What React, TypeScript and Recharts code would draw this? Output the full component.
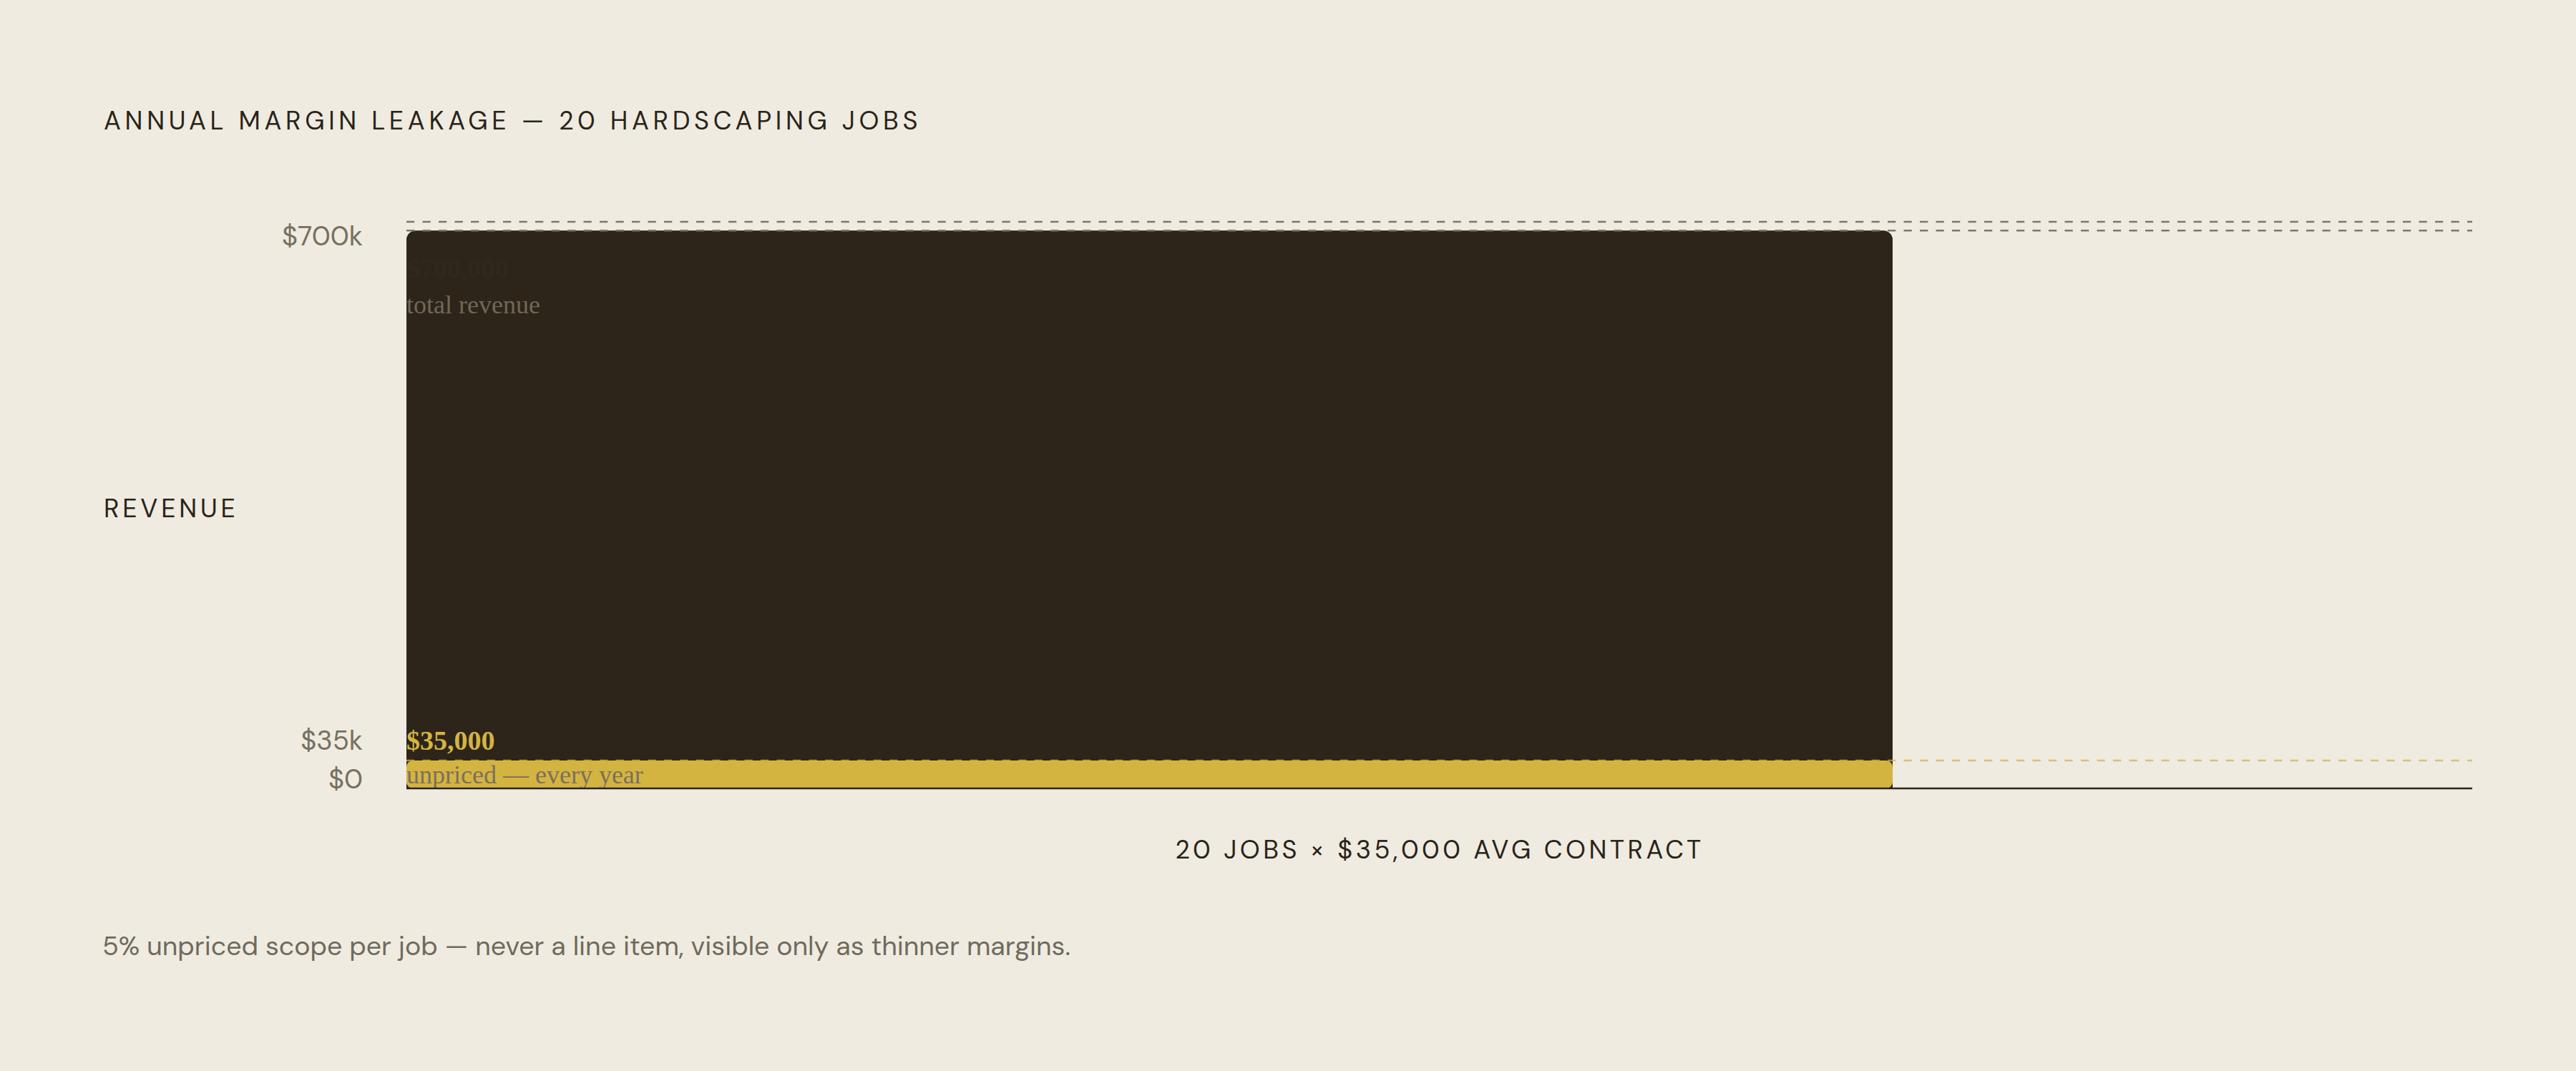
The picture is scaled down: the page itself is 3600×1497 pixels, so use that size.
import React from 'react';
import { ComposedChart, XAxis, YAxis, ReferenceArea, ReferenceLine, Rectangle } from 'recharts';

// ---- data ----
const JOBS = 20;
const X_MAX = 27.8;
const TOTAL_REVENUE = 700000;
const UNPRICED = 35000;
const Y_CEILING = 711000;
const Y_TICKS = [0, 35000, 700000];
const Y_TICK_LABELS = ['$0', '$35k', '$700k'];
const TOTAL_LABEL = '$700,000';
const TOTAL_CAPTION = 'total revenue';
const UNPRICED_LABEL = '$35,000';
const UNPRICED_CAPTION = 'unpriced — every year';
const TITLE = 'ANNUAL MARGIN LEAKAGE — 20 HARDSCAPING JOBS';
const Y_TITLE = 'REVENUE';
const X_TITLE = '20 JOBS × $35,000 AVG CONTRACT';
const FOOTNOTE = '5% unpriced scope per job — never a line item, visible only as thinner margins.';

// ---- style ----
const W = 3600;
const H = 1497;
const BG = '#efebe1';
const DARK = '#2d2519';
const GOLD = '#d4b441';
const MUTED = '#77705f';
const SANS = "'DM Sans', Inter, sans-serif";
const SERIF = "'Liberation Serif', 'Times New Roman', serif";

const TICK_DY: Record<number, number> = { 0: 0, 35000: -15, 700000: 21 };

function YTick(props: any) {
  const { x, y, payload } = props;
  const i = Y_TICKS.indexOf(payload.value);
  return (
    <text x={x} y={y + (TICK_DY[payload.value] ?? 0)} textAnchor="end" fill={MUTED} fontSize={38} fontFamily={SANS}>
      {Y_TICK_LABELS[i]}
    </text>
  );
}

function TotalShape(p: any) {
  const { x, y, width, height } = p;
  return (
    <g>
      <Rectangle x={x} y={y} width={width} height={height} radius={[13, 13, 0, 0]} fill={DARK} />
      <text x={x} y={y + 66} fill="#30281d" fontWeight={700} fontSize={38} fontFamily={SERIF}>{TOTAL_LABEL}</text>
      <text x={x} y={y + 116} fill="#6f6858" fontSize={36} fontFamily={SERIF}>{TOTAL_CAPTION}</text>
    </g>
  );
}

function UnpricedShape(p: any) {
  const { x, y, width, height } = p;
  return (
    <g>
      <Rectangle x={x} y={y} width={width} height={height} radius={9} fill={GOLD} />
      <text x={x} y={y - 15} fill={GOLD} fontWeight={700} fontSize={38} fontFamily={SERIF}>{UNPRICED_LABEL}</text>
      <text x={x} y={y + 32} fill="#7a705d" fontSize={36} fontFamily={SERIF}>{UNPRICED_CAPTION}</text>
    </g>
  );
}

export default function App() {
  return (
    <div style={{ position: 'absolute', left: 0, top: 0, width: W, height: H, background: BG, overflow: 'hidden' }}>
      <div style={{ position: 'absolute', left: 0, top: 0 }}>
        <ComposedChart
          width={W}
          height={H}
          data={[{ x: 0 }]}
          margin={{ top: 310, right: 145, bottom: 395, left: 468 }}
        >
          <XAxis type="number" dataKey="x" domain={[0, X_MAX]} hide />
          <YAxis
            type="number"
            domain={[0, Y_CEILING]}
            ticks={Y_TICKS}
            width={100}
            axisLine={false}
            tickLine={false}
            tickSize={0}
            tickMargin={61}
            tick={<YTick />}
            allowDataOverflow
            interval={0}
          />
          <ReferenceArea x1={0} x2={JOBS} y1={0} y2={TOTAL_REVENUE} shape={TotalShape} ifOverflow="visible" />
          <ReferenceArea x1={0} x2={JOBS} y1={0} y2={UNPRICED} shape={UnpricedShape} ifOverflow="visible" />
          <ReferenceLine y={Y_CEILING} stroke="#7d776b" strokeWidth={2.5} strokeDasharray="11.25 11.25" />
          <ReferenceLine y={TOTAL_REVENUE} stroke="#7d776b" strokeWidth={2.5} strokeDasharray="11.25 11.25" />
          <ReferenceLine y={UNPRICED} stroke={GOLD} strokeOpacity={0.75} strokeWidth={2.5} strokeDasharray="11.25 11.25" />
          <ReferenceLine y={0} stroke={DARK} strokeWidth={2.5} />
        </ComposedChart>
      </div>
      <svg width={W} height={H} style={{ position: 'absolute', left: 0, top: 0, pointerEvents: 'none' }}>
        <text x={145} y={181} fill="#2a2419" fontSize={36} fontFamily={SANS} letterSpacing={5.7}>{TITLE}</text>
        <text x={145} y={723} fill="#2a2419" fontSize={36} fontFamily={SANS} letterSpacing={4.8}>{Y_TITLE}</text>
        <text x={2012} y={1200} fill="#2a2419" fontSize={36} fontFamily={SANS} letterSpacing={4.5} textAnchor="middle">{X_TITLE}</text>
        <text x={143} y={1335} fill="#6f6a5c" fontSize={37.5} fontFamily={SANS}>{FOOTNOTE}</text>
      </svg>
    </div>
  );
}
